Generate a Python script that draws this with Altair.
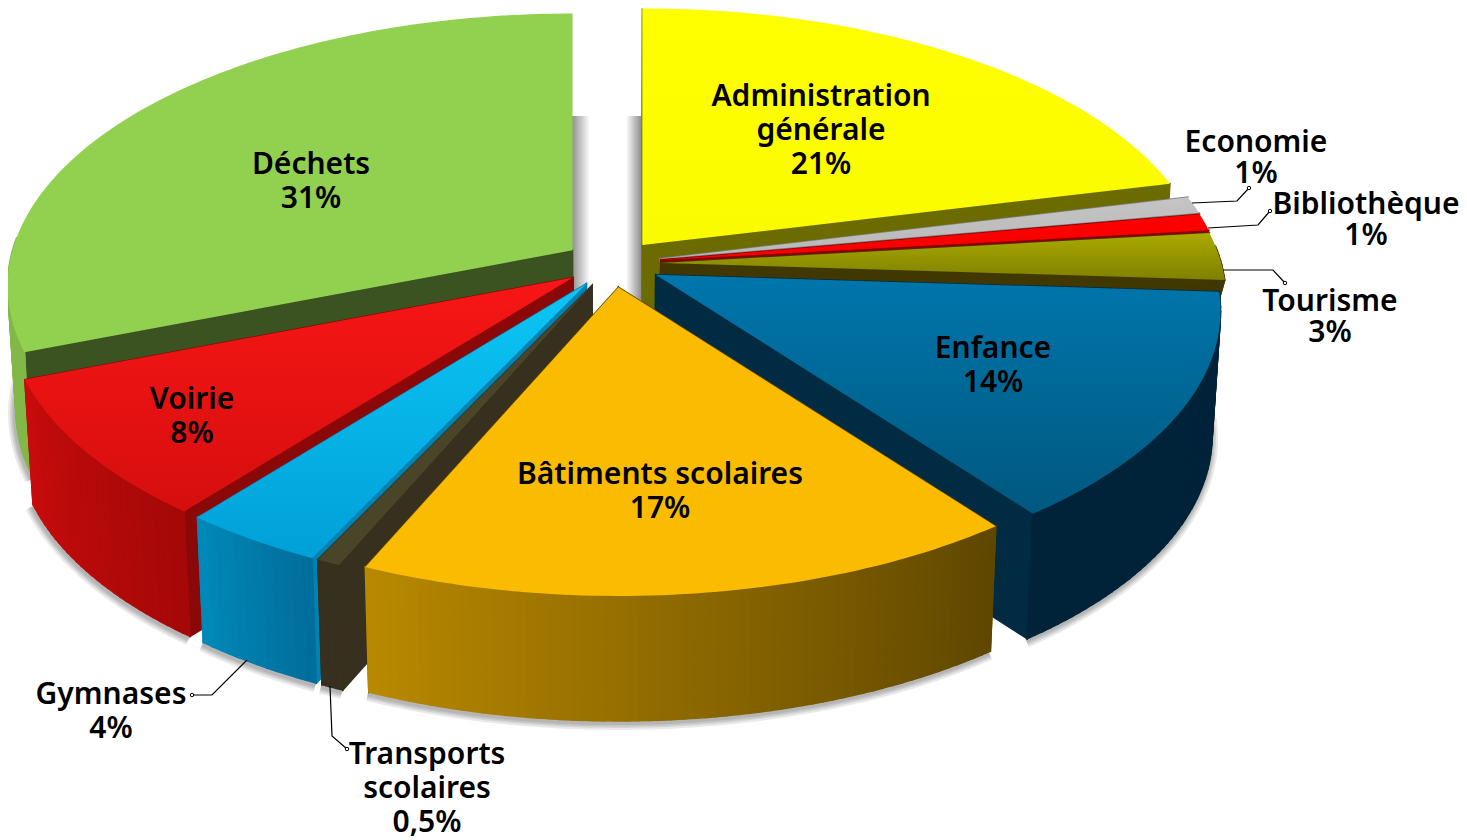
import math
import altair as alt

# ---- values (slice sizes estimated from the drawn angles)
names = ["Administration générale", "Economie", "Bibliothèque", "Tourisme", "Enfance",
         "Bâtiments scolaires", "Transports scolaires", "Gymnases", "Voirie", "Déchets"]
shares = [21.2, 1.0, 1.0, 2.8, 13.7, 16.8, 0.6, 3.6, 8.4, 30.9]
share_text = ["21%", "1%", "1%", "3%", "14%", "17%", "0,5%", "4%", "8%", "31%"]

# ---- styles: top start/end, wall, rim start/end
top_a = ["#ffff00", "#c4c4c4", "#ff0000", "#aaaa00", "#0076ac", "#fbbb00", "#4a4428", "#0cc6f6", "#f81616", "#92d050"]
top_b = ["#fbfb00", "#b8b8b8", "#f40000", "#808000", "#00587f", "#fbbb00", "#4a4428", "#00a0d8", "#d60e0e", "#92d050"]
wall = ["#6b6b00", "#808080", "#8b0000", "#403800", "#002b42", "#5f4700", "#37301e", "#0082b2", "#8b0808", "#3b5320"]
rim_a = ["#6b6b00", "#909090", "#a00000", "#403800", "#00233a", "#5f4700", "#37301e", "#006e9c", "#a50808", "#82b848"]
rim_b = ["#6b6b00", "#909090", "#a00000", "#403800", "#00233a", "#b88800", "#37301e", "#0088b8", "#c80c0c", "#82b848"]
# height of each slice's side: the thin far slices only ever show a sliver
side = [125, 30, 30, 30, 125, 125, 125, 125, 125, 125]

# ---- view of the disc
CX, CY, RX, RY, PERSP, EX, EY, SHRINK = 612.5, 263.5, 560, 268, 0.132, 0.087, 0.088, 0.986
# draw order, far to near
order = [9, 0, 1, 2, 3, 4, 8, 7, 6, 5]


def project(u, v):
    f = 1 / (1 - PERSP * v)
    return RX * u * f, RY * v * f


def unit(t):
    return math.sin(t), -math.cos(t)


def mix(a, b, t):
    ca = [int(a[i:i + 2], 16) for i in (1, 3, 5)]
    cb = [int(b[i:i + 2], 16) for i in (1, 3, 5)]
    return "#%02x%02x%02x" % tuple(round(x + (y - x) * t) for x, y in zip(ca, cb))


def lower(p, h=125):
    return [CX + (p[0] - CX) * SHRINK, p[1] + h]


def gradient(c0, c1, x2, y2):
    return alt.LinearGradient(gradient="linear", stops=[
        alt.GradientStop(color=c0, offset=0), alt.GradientStop(color=c1, offset=1)],
        x1=0, y1=0, x2=x2, y2=y2)


total = sum(shares)
slices = []
acc = 0.0
for s in shares:
    t0 = acc / total * 2 * math.pi
    acc += s
    t1 = acc / total * 2 * math.pi
    ub, vb = unit((t0 + t1) / 2)
    ox, oy = project(EX * ub, EY * vb)
    apex = [CX + ox, CY + oy]
    n = max(3, int(math.degrees(t1 - t0)))
    arc = []
    for i in range(n + 1):
        px, py = project(*unit(t0 + (t1 - t0) * i / n))
        arc.append([apex[0] + px, apex[1] + py])
    slices.append(dict(apex=apex, arc=arc))


def feat(coords, **props):
    return {"type": "Feature", "properties": props,
            "geometry": {"type": "Polygon", "coordinates": [coords + [coords[0]]]}}


def line(coords):
    return {"type": "Feature", "properties": {},
            "geometry": {"type": "LineString", "coordinates": coords}}


PROJ = dict(type="identity", scale=1, translate=[-8, -8])
layers = []


def add(chart):
    layers.append(chart.project(**PROJ))


# ---- soft shadows
for x0, x1, c0, c1 in [(572, 590, "#8f8f8f", "#ffffff"), (626, 641, "#ffffff", "#8f8f8f")]:
    add(alt.Chart(alt.Data(values=[feat([[x0, 116], [x1, 116], [x1, 300], [x0, 300]])]))
        .mark_geoshape(fill=gradient(c0, c1, 1, 0)))
shadow_lines = []
for idx in [4, 5, 6, 7, 8, 9]:
    bottom = [lower(p) for p in slices[idx]["arc"]]
    if idx == 9:
        bottom = bottom[:22]
    shadow_lines.append(line([[x - 1, y + 2] for x, y in bottom]))
for w in (14, 10, 7, 4):
    add(alt.Chart(alt.Data(values=shadow_lines))
        .mark_geoshape(filled=False, stroke="#555555", strokeWidth=w, strokeOpacity=0.13))

# ---- slices
for idx in order:
    s = slices[idx]
    a, arc = s["apex"], s["arc"]
    h = side[idx]
    feats = [feat([a, arc[0], lower(arc[0], h), lower(a, h)], c=wall[idx])]
    if idx != 9:  # the wall behind the last slice faces away from the viewer
        feats.append(feat([a, arc[-1], lower(arc[-1], h), lower(a, h)], c=wall[idx]))
    m = len(arc) - 1
    for i in range(m):
        if (arc[i][1] + arc[i + 1][1]) / 2 - a[1] < -15:  # far rim is hidden behind the top
            continue
        col = mix(rim_a[idx], rim_b[idx], i / max(1, m - 1))
        feats.append(feat([arc[i], arc[i + 1], lower(arc[i + 1], h), lower(arc[i], h)], c=col))
    add(alt.Chart(alt.Data(values=feats)).mark_geoshape(strokeWidth=1.5).encode(
        color=alt.Color("properties.c:N", scale=None, legend=None),
        stroke=alt.Stroke("properties.c:N", scale=None, legend=None)))
    add(alt.Chart(alt.Data(values=[feat([a] + arc)])).mark_geoshape(
        fill=gradient(top_a[idx], top_b[idx], 0, 1)))

# ---- labels (layout table, separate from the values)
label_lines = [["Administration", "générale"], ["Economie"], ["Bibliothèque"], ["Tourisme"], ["Enfance"],
               ["Bâtiments scolaires"], ["Transports", "scolaires"], ["Gymnases"], ["Voirie"], ["Déchets"]]
label_centre = [(821, 129), (1256, 156.5), (1366, 218.5), (1330, 315.5), (993, 364),
                (660, 490), (427, 787), (111, 710), (192, 415), (311, 180)]
label_leading = [34, 31, 31, 31, 34, 34, 34, 34, 34, 34]
rows = []
for ls, pct, (x, y), lh in zip(label_lines, share_text, label_centre, label_leading):
    all_lines = ls + [pct]
    top = y - (len(all_lines) - 1) * lh / 2
    for i, t in enumerate(all_lines):
        rows.append({"lon": x, "lat": top + i * lh + 2, "t": t})
add(alt.Chart(alt.Data(values=rows)).mark_text(
    font="Noto Sans", fontSize=30, fontWeight=600, color="#000000", baseline="middle", align="center"
).encode(longitude="lon:Q", latitude="lat:Q", text="t:N"))

# ---- leader lines
leaders = [
    [(1192, 203), (1237, 201), (1249, 188)],
    [(1208, 228), (1258, 225), (1270, 211)],
    [(1223, 270), (1273, 270), (1285, 283)],
    [(247, 660), (212, 695), (192, 695)],
    [(330, 686), (332, 736), (347, 749)],
]
add(alt.Chart(alt.Data(values=[line([list(p) for p in l]) for l in leaders]))
    .mark_geoshape(filled=False, stroke="#000000", strokeWidth=1.2))
add(alt.Chart(alt.Data(values=[{"lon": l[-1][0], "lat": l[-1][1]} for l in leaders]))
    .mark_point(filled=True, fill="#ffffff", stroke="#000000", strokeWidth=1, size=12, opacity=1)
    .encode(longitude="lon:Q", latitude="lat:Q"))

chart = alt.layer(*layers).properties(
    width=1451, height=836, padding=0, autosize=alt.AutoSizeParams(type="none"), background="#ffffff"
).configure_view(stroke=None)
chart.save("out.html", embed_options={"renderer": "svg", "actions": False})
